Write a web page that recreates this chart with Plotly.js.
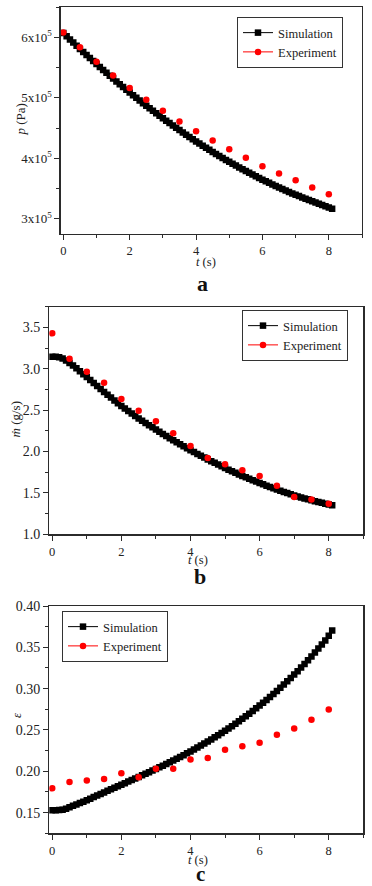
<!DOCTYPE html>
<html>
<head>
<meta charset="utf-8">
<script src="https://cdn.plot.ly/plotly-3.0.1.min.js"></script>
<style>
html,body{margin:0;padding:0;background:#fff;}
#chart{width:372px;height:886px;}
</style>
</head>
<body>
<div id="chart"></div>
<script>
// ---- data ----
var tSim = [0.0,0.1,0.2,0.3,0.4,0.5,0.6,0.7,0.8,0.9,
            1.0,1.1,1.2,1.3,1.4,1.5,1.6,1.7,1.8,1.9,
            2.0,2.1,2.2,2.3,2.4,2.5,2.6,2.7,2.8,2.9,
            3.0,3.1,3.2,3.3,3.4,3.5,3.6,3.7,3.8,3.9,
            4.0,4.1,4.2,4.3,4.4,4.5,4.6,4.7,4.8,4.9,
            5.0,5.1,5.2,5.3,5.4,5.5,5.6,5.7,5.8,5.9,
            6.0,6.1,6.2,6.3,6.4,6.5,6.6,6.7,6.8,6.9,
            7.0,7.1,7.2,7.3,7.4,7.5,7.6,7.7,7.8,7.9,
            8.0,8.1];
var tExp = [0,0.5,1,1.5,2,2.5,3,3.5,4,4.5,5,5.5,6,6.5,7,7.5,8];

// (a) pressure, Pa
var pSim = [607000,601700,596400,591200,586000,580800,575700,570600,565600,560600,
            555700,550800,546000,541200,536400,531700,527000,522400,517800,513300,
            508800,504300,499900,495500,491200,486900,482700,478500,474400,470300,
            466200,462200,458200,454300,450400,446600,442800,439000,435300,431700,
            428000,424500,420900,417400,414000,410600,407200,403900,400700,397400,
            394300,391100,388000,385000,382000,379000,376100,373200,370400,367600,
            364800,362100,359500,356900,354300,351800,349300,346900,344500,342100,
            339800,337600,335300,333200,331000,328900,326900,324900,322900,321000,
            318800,316600];
var pExp = [608000,583500,559400,536800,516000,496700,478600,461000,444900,429600,
            414800,401000,386800,374800,363800,351800,340800];

// (b) mass flow rate, g/s
var mSim = [3.145,3.145,3.140,3.125,3.100,3.070,3.040,3.005,2.970,2.935,
            2.900,2.864,2.828,2.792,2.756,2.720,2.686,2.652,2.618,2.584,
            2.550,2.520,2.490,2.460,2.430,2.400,2.373,2.346,2.319,2.292,
            2.265,2.239,2.213,2.187,2.161,2.135,2.111,2.087,2.063,2.039,
            2.015,1.993,1.971,1.949,1.927,1.905,1.884,1.863,1.842,1.821,
            1.800,1.781,1.762,1.743,1.724,1.705,1.688,1.671,1.654,1.637,
            1.620,1.604,1.588,1.572,1.556,1.540,1.526,1.512,1.498,1.484,
            1.470,1.458,1.446,1.434,1.422,1.410,1.400,1.390,1.380,1.370,
            1.360,1.352];
var mExp = [3.428,3.122,2.965,2.832,2.634,2.494,2.366,2.222,2.068,1.922,
            1.845,1.773,1.705,1.588,1.451,1.419,1.370];

// (c) epsilon
var eSim = [0.1530,0.1530,0.1531,0.1535,0.1548,0.1565,0.1582,0.1599,0.1616,0.1633,
            0.1650,0.1669,0.1688,0.1707,0.1726,0.1745,0.1764,0.1782,0.1801,0.1819,
            0.1838,0.1857,0.1876,0.1894,0.1913,0.1932,0.1951,0.1970,0.1990,0.2009,
            0.2028,0.2048,0.2068,0.2089,0.2109,0.2130,0.2151,0.2173,0.2195,0.2217,
            0.2240,0.2263,0.2287,0.2311,0.2335,0.2360,0.2385,0.2411,0.2437,0.2463,
            0.2490,0.2518,0.2546,0.2575,0.2605,0.2635,0.2666,0.2697,0.2729,0.2762,
            0.2795,0.2829,0.2864,0.2899,0.2935,0.2972,0.3010,0.3049,0.3089,0.3129,
            0.3170,0.3212,0.3255,0.3299,0.3344,0.3390,0.3437,0.3485,0.3534,0.3584,
            0.3640,0.3705];
var eExp = [0.1794,0.1870,0.1890,0.1907,0.1977,0.1927,0.2030,0.2030,0.2142,0.2160,
            0.2260,0.2303,0.2345,0.2442,0.2519,0.2623,0.2748];

var pTickVals = [300000,400000,500000,600000];
var pTickText = ['3x10<sup>5</sup>','4x10<sup>5</sup>','5x10<sup>5</sup>','6x10<sup>5</sup>'];
var seriesNames = ['Simulation','Experiment'];
var panelLabels = ['a','b','c'];
var xTitle = '<i>t</i> (s)';
var yTitles = ['<i>p</i> (Pa)','<i>ṁ</i> (g/s)','<i>ε</i>'];

// ---- styling ----
var FONT = 'Liberation Serif';
var AX = '#2b2b2b';
var TXT = '#222';
var W = 372, H = 886;

function px(x){return x/W;}
function py(y){return 1 - y/H;}

function xAxis(dom, anchor){
  return {
    domain:[px(dom[0]),px(dom[1])], anchor:anchor, range:[-0.085,9],
    showline:true, mirror:true, linecolor:AX, linewidth:1.2,
    ticks:'outside', ticklen:5, tickwidth:1, tickcolor:AX,
    tickmode:'linear', tick0:0, dtick:2, showgrid:false, zeroline:false,
    minor:{ticks:'outside', ticklen:3, tickwidth:1, tickcolor:AX, tickmode:'linear', tick0:0, dtick:1, showgrid:false},
    tickfont:{family:FONT, size:12.5, color:TXT}
  };
}
function yAxis(dom, anchor, range, fsize, extra){
  var o = {
    domain:[py(dom[1]),py(dom[0])], anchor:anchor, range:range,
    showline:true, mirror:true, linecolor:AX, linewidth:1.2,
    ticks:'outside', ticklen:5, tickwidth:1, tickcolor:AX,
    showgrid:false, zeroline:false,
    tickfont:{family:FONT, size:fsize, color:TXT}
  };
  for (var k in extra) o[k] = extra[k];
  return o;
}

function simTrace(x,y,xa,ya,lg){
  return {x:x,y:y,xaxis:xa,yaxis:ya,name:seriesNames[0],legend:lg,
    mode:'lines+markers', line:{color:'#000',width:1},
    marker:{symbol:'square',size:6.5,color:'#000'}};
}
function expTrace(x,y,xa,ya){
  return {x:x,y:y,xaxis:xa,yaxis:ya,name:seriesNames[1],showlegend:false,
    mode:'markers', marker:{symbol:'circle',size:6.5,color:'#ff0000'}};
}
function expLegendTrace(xa,ya,lg){
  return {x:[null],y:[null],xaxis:xa,yaxis:ya,name:seriesNames[1],legend:lg,
    mode:'lines+markers', line:{color:'#ff0000',width:1},
    marker:{symbol:'circle',size:6.5,color:'#ff0000'}, hoverinfo:'skip'};
}

var data = [
  simTrace(tSim,pSim,'x','y','legend'),
  expTrace(tExp,pExp,'x','y'),
  expLegendTrace('x','y','legend'),
  simTrace(tSim,mSim,'x2','y2','legend2'),
  expTrace(tExp,mExp,'x2','y2'),
  expLegendTrace('x2','y2','legend2'),
  simTrace(tSim,eSim,'x3','y3','legend3'),
  expTrace(tExp,eExp,'x3','y3'),
  expLegendTrace('x3','y3','legend3')
];

function legendBox(x,y){
  return {x:px(x), y:py(y), xanchor:'left', yanchor:'top',
    bgcolor:'#fff', bordercolor:'#333', borderwidth:1,
    font:{family:FONT, size:12.5, color:TXT}, tracegroupgap:0, itemwidth:30};
}

function ann(text, x, y, size, angle, bold){
  return {text: bold ? '<b>'+text+'</b>' : text, x:px(x), y:py(y), xref:'paper', yref:'paper',
    xanchor:'center', yanchor:'middle', showarrow:false, textangle:angle||0,
    font:{family:FONT, size:size, color:bold?'#111':TXT}};
}

var layout = {
  width:W, height:H, margin:{l:0,r:0,t:0,b:0},
  paper_bgcolor:'#fff', plot_bgcolor:'#fff',
  font:{family:FONT, color:TXT},
  xaxis: xAxis([60.5,362],'y'),
  yaxis: yAxis([7,234],'x',[275000,650000],13,{
    tickmode:'array', tickvals:pTickVals, ticktext:pTickText,
    minor:{ticks:'outside', ticklen:3, tickwidth:1, tickcolor:AX, tickmode:'linear', tick0:250000, dtick:50000, showgrid:false}}),
  xaxis2: xAxis([49.3,363.3],'y2'),
  yaxis2: yAxis([306.7,534.3],'x2',[1.0,3.75],14,{
    tickmode:'linear', tick0:1.0, dtick:0.5, tickformat:'.1f',
    minor:{ticks:'outside', ticklen:3, tickwidth:1, tickcolor:AX, tickmode:'linear', tick0:1.0, dtick:0.25, showgrid:false}}),
  xaxis3: xAxis([49.3,363.3],'y3'),
  yaxis3: yAxis([606,833.3],'x3',[0.125,0.40],14,{
    tickmode:'linear', tick0:0.15, dtick:0.05, tickformat:'.2f',
    minor:{ticks:'outside', ticklen:3, tickwidth:1, tickcolor:AX, tickmode:'linear', tick0:0.125, dtick:0.025, showgrid:false}}),
  legend: legendBox(237,17),
  legend2: legendBox(242,310),
  legend3: legendBox(62,611),
  annotations:[
    ann(xTitle, 206, 262, 12.5, 0, false),
    ann(xTitle, 198, 559.5, 12.5, 0, false),
    ann(xTitle, 198, 860, 12.5, 0, false),
    ann(yTitles[0], 20.5, 120, 13, -90, false),
    ann(yTitles[1], 14.5, 420, 13, -90, false),
    ann(yTitles[2], 16, 715, 13, -90, false),
    ann(panelLabels[0], 203, 283.5, 22, 0, true),
    ann(panelLabels[1], 200, 576.5, 22, 0, true),
    ann(panelLabels[2], 200, 873.5, 21, 0, true)
  ],
  showlegend:true
};

Plotly.newPlot('chart', data, layout, {displayModeBar:false, staticPlot:true});
</script>
</body>
</html>
